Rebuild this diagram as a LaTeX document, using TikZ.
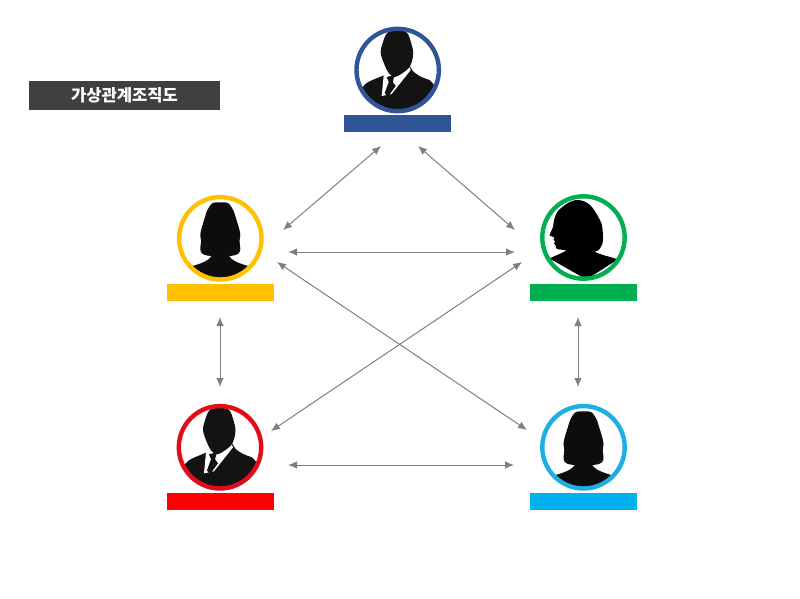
\documentclass[tikz,border=0pt]{standalone}
\usepackage{fontspec}
\newfontfamily\krfont{Noto Sans CJK KR}
\usetikzlibrary{arrows.meta,calc}
\definecolor{cblue}{HTML}{2F5597}
\definecolor{cyellow}{HTML}{FFC000}
\definecolor{cgreen}{HTML}{00B050}
\definecolor{cred}{HTML}{E30B17}
\definecolor{ccyan}{HTML}{1CAEE4}
\definecolor{bcyan}{HTML}{00B0F0}
\definecolor{arrowgray}{HTML}{7F7F7F}
\definecolor{titlegray}{HTML}{404040}
\definecolor{sil}{HTML}{141314}
\tikzset{
  ring/.style={circle,draw=#1,line width=4.4pt,minimum size=82.4pt,inner sep=0pt},
  namebar/.style={fill=#1,draw=none,minimum width=107pt,minimum height=17pt,inner sep=0pt},
  link/.style={draw=arrowgray,line width=1pt,{Latex[length=9pt,width=7.5pt]}-{Latex[length=9pt,width=7.5pt]}},
  titlebox/.style={fill=titlegray,draw=none,minimum width=191pt,minimum height=29.5pt,inner sep=0pt,text=white,font=\krfont\bfseries\fontsize{16.6}{18}\selectfont}
}
\newcommand{\manfig}{%
  \fill[sil] (-35,17) .. controls (-32,12) and (-25,10) .. (-13,5)
    -- (12,-4) .. controls (15,3) and (22,7) .. (32,10) .. controls (35,12) and (37,15) .. (37,20)
    -- (37,42) -- (-37,42) -- cycle;
  \fill[white] (-14,5) -- (11,-4) -- (13,0) -- (-6,24) -- (-16,26) -- cycle;
  \fill[sil] (-11,7) -- (-3,5) -- (-5,12) -- (-2,16) -- (-10,27) -- (-13,23) -- (-9,12) -- cycle;
  \fill[sil] plot[smooth cycle,tension=0.55] coordinates {(-1,-39.5) (9,-37.5) (13.5,-27) (15.5,-17) (14,-8) (11,-2) (5,3) (-3,7) (-9,3) (-13.5,-6) (-17,-17) (-15,-27) (-10.5,-37)};
}
\newcommand{\womanfig}{%
  \fill[black!95] plot[smooth cycle,tension=0.5] coordinates {(0,-36) (8,-35) (13,-28) (16,-19) (19,-9) (20,-3) (19.2,3) (20,10) (18.5,15) (11,17.5) (-11,17.5) (-18.5,15) (-20,10) (-19.2,3) (-20,-3) (-19,-9) (-16,-19) (-13,-28) (-8,-35)};
  \fill[black!95] (-8,14) -- (8,14) .. controls (8,20) and (14,24) .. (29,28) -- (29,45) -- (-29,45) -- (-29,28) .. controls (-14,24) and (-8,20) .. (-8,14) -- cycle;
}
\newcommand{\profilefig}{%
  \fill[black] (-5,-37.5) .. controls (1,-37) and (5,-34) .. (8,-31) .. controls (12,-26) and (16,-19) .. (18,-14)
    .. controls (19.5,-8) and (20,2) .. (19,6) .. controls (17,11) and (15,14) .. (11,14)
    .. controls (18,18) and (27,19) .. (34,22) -- (3,42) -- (-34,21)
    .. controls (-28,18) and (-22,16) .. (-17,13) -- (-23,12) .. controls (-27,12) and (-28,11) .. (-28,8)
    -- (-29.5,6) -- (-28.5,4) -- (-30,2) -- (-29,0) -- (-34,-2)
    .. controls (-33,-6) and (-30,-9) .. (-30,-14) .. controls (-29,-22) and (-26,-27) .. (-23,-29) .. controls (-16,-35) and (-10,-38) .. (-5,-37.5) -- cycle;
}
\newcommand{\portrait}[4]{% name, position, figure, ring colour
  \begin{scope}[shift={#2}]
    \begin{scope}
      \clip (0,0) circle (40.5);
      #3
    \end{scope}
    \node[ring=#4] (#1) at (0,0) {};
  \end{scope}
}
\begin{document}
\begin{tikzpicture}[x=1pt,y=-1pt]
\useasboundingbox (0,0) rectangle (800,599);
\fill[white] (0,0) rectangle (800,599);

\node[titlebox] (title) at (124.5,95.7) {가상관계조직도};

\portrait{boss}{(397.7,70)}{\manfig}{cblue}
\portrait{yellowp}{(220.3,238.3)}{\womanfig}{cyellow}
\portrait{greenp}{(583.5,237.5)}{\profilefig}{cgreen}
\portrait{redp}{(220,447.3)}{\manfig}{cred}
\portrait{cyanp}{(583.5,447.3)}{\womanfig}{ccyan}

\node[namebar=cblue] (bossbar) at (397.5,123.4) {};
\node[namebar=cyellow] (yellowbar) at (220.3,292.3) {};
\node[namebar=cgreen] (greenbar) at (583.6,292.3) {};
\node[namebar=red] (redbar) at (220.3,501) {};
\node[namebar=bcyan] (cyanbar) at (583.6,501) {};

\coordinate (a1) at (381,146); \coordinate (a2) at (283,230);
\coordinate (b1) at (418,146); \coordinate (b2) at (515,230);
\coordinate (c1) at (288,252); \coordinate (c2) at (515,252);
\coordinate (d1) at (277,262); \coordinate (d2) at (527,430);
\coordinate (e1) at (522,262); \coordinate (e2) at (271,431);
\coordinate (f1) at (288,465); \coordinate (f2) at (514,465);
\coordinate (g1) at (220,317); \coordinate (g2) at (220,387);
\coordinate (h1) at (578,317); \coordinate (h2) at (578,387);
\foreach \s/\t in {a1/a2,b1/b2,c1/c2,d1/d2,e1/e2,f1/f2,g1/g2,h1/h2}
  \draw[link] (\s) -- (\t);
\end{tikzpicture}
\end{document}
